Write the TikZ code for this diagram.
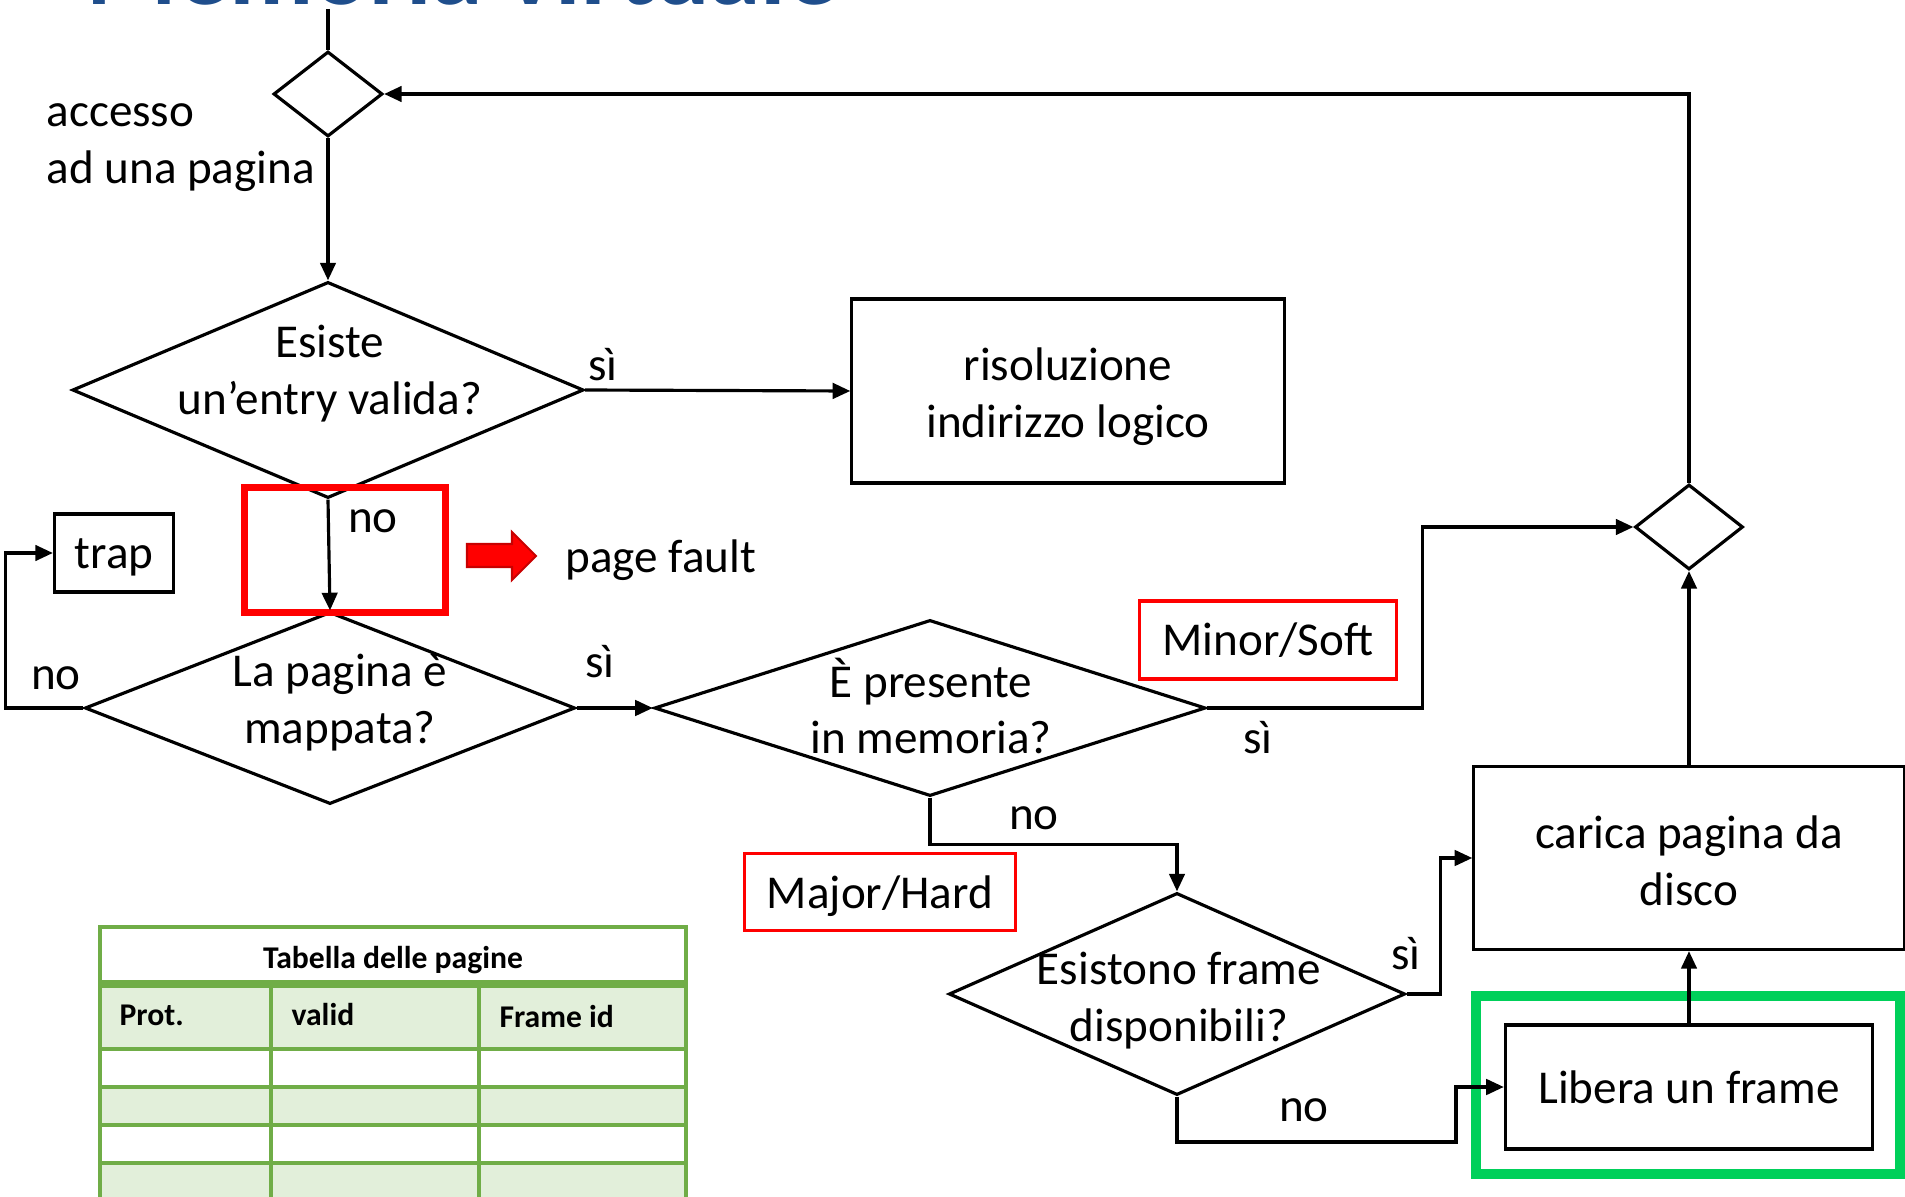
\documentclass[tikz,border=0pt]{standalone}
\usepackage{fontspec}
\setmainfont{Carlito}
\usetikzlibrary{shapes.geometric,arrows.meta}

\definecolor{tabgreen}{RGB}{112,173,71}
\definecolor{tabfill}{RGB}{226,239,218}
\definecolor{hilite}{RGB}{0,208,90}
\definecolor{titleblue}{RGB}{31,78,140}
\definecolor{darkred}{RGB}{200,0,0}

\begin{document}
\begin{tikzpicture}[x=0.01cm,y=-0.01cm, font=\fontsize{13.4}{16.2}\selectfont, line width=0.9pt,
    >={Triangle[length=5pt,width=4.4pt]},
    dia/.style={draw,diamond,inner sep=0pt},
    box/.style={draw,rectangle,inner sep=0pt,align=center},
    tag/.style={draw=red,rectangle,inner sep=0pt},
    txt/.style={inner sep=0pt,align=center},
    tabtxt/.style={inner sep=0pt,font=\fontsize{9}{11}\selectfont\bfseries}]
      \useasboundingbox (0,0) rectangle (1905,1197);

      \node[anchor=base west, inner sep=0pt, text=titleblue, font=\fontsize{29.5}{35}\selectfont\bfseries] (title) at (85,5) {Memoria virtuale};

      % flow chart
      \coordinate (top) at (328,9);
      \node[dia, minimum width=1.09cm, minimum height=0.85cm] (d0) at (328,94) {};
      \node[txt, align=left, anchor=west] (acc) at (45,148) {accesso\\ad una pagina};

      \node[dia, minimum width=5.11cm, minimum height=2.16cm] (d1) at (328,390) {};
      \node[txt] (d1t) at (330,374) {Esiste\\un’entry valida?};
      \node[box, minimum width=4.32cm, minimum height=1.84cm] (b1) at (1068,391) {};
      \node[txt] (b1t) at (1068,397) {risoluzione\\indirizzo logico};

      \node[dia, minimum width=4.90cm, minimum height=1.92cm] (d2) at (330,708) {};
      \node[txt] (d2t) at (340,703) {La pagina è\\mappata?};
      \node[box, minimum width=1.19cm, minimum height=0.78cm] (trap) at (114,553) {};
      \node[txt] (trapt) at (114,557) {trap};

      \node[draw=red, line width=2pt, inner sep=0pt, minimum width=2.01cm, minimum height=1.24cm] (pf) at (345,550) {};
      \filldraw[fill=red, draw=darkred, line width=0.6pt]
        (467,544) -- (512,544) -- (512,532) -- (536,556) -- (512,580) -- (512,567) -- (467,567) -- cycle;
      \node[txt, anchor=west] (pft) at (564,560) {page fault};

      \node[dia, minimum width=5.51cm, minimum height=1.76cm] (d3) at (930,708) {};
      \node[txt] (d3t) at (931,706) {È presente\\in memoria?};
      \node[tag, minimum width=2.57cm, minimum height=0.78cm] (minor) at (1268,640) {Minor/Soft};
      \node[dia, minimum width=1.08cm, minimum height=0.85cm] (dj) at (1689,527) {};

      \node[tag, minimum width=2.71cm, minimum height=0.77cm] (major) at (880,892) {};
      \node[txt] (majort) at (880,896) {Major/Hard};
      \node[dia, minimum width=4.56cm, minimum height=2.02cm] (d4) at (1177,994) {};
      \node[txt] (d4t) at (1179,1001) {Esistono frame\\disponibili?};

      \node[box, minimum width=4.30cm, minimum height=1.83cm] (b2) at (1689,858) {};
      \node[txt] (b2t) at (1689,861) {carica pagina da\\disco};
      \node[box, minimum width=3.67cm, minimum height=1.24cm] (b3) at (1689,1087) {Libera un frame};
      \node[draw=hilite, line width=2.8pt, inner sep=0pt, minimum width=4.24cm, minimum height=1.78cm] (hl) at (1688,1085) {};
      \coordinate (nb) at (1456,1142);

      \node[txt] (si1) at (603,365) {sì};
      \node[txt] (no1) at (373,521) {no};
      \node[txt] (no2) at (56,678) {no};
      \node[txt] (si2) at (600,662) {sì};
      \node[txt] (si3) at (1258,738) {sì};
      \node[txt] (no3) at (1034,818) {no};
      \node[txt] (si4) at (1406,954) {sì};
      \node[txt] (no4) at (1304,1110) {no};

      \draw (top) -- (d0.north);
      \draw[->] (d0.south) -- (d1.north);
      \draw[->] (d1.east) -- (b1.west);
      \draw[->] (d1.south) -- (d2.north);
      \draw[->] (d2.west) -- ++(-78,0) |- (trap.west);
      \draw[->] (d2.east) -- (d3.west);
      \draw[->] (d3.east) -- ++(215,0) |- (dj.west);
      \draw[->] (dj.north) |- (d0.east);
      \draw[->] (d3.south) -- ++(0,47) -| (d4.north);
      \draw[->] (d4.east) -- ++(34,0) |- (b2.west);
      \draw[->] (b2.north) -- (dj.south);
      \draw[->] (d4.south) |- (nb) |- (b3.west);
      \draw[->] (b3.north) -- (b2.south);

      % page table
      \foreach \y in {984,1087,1163} \fill[tabfill] (100,\y) rectangle (686,\y+38);
      \fill[tabfill] (100,984) rectangle (686,1049);
      \foreach \y in {1049,1087,1125,1163} \draw[tabgreen,line width=0.9pt] (100,\y) -- (686,\y);
      \foreach \x in {271,479} \draw[tabgreen,line width=0.9pt] (\x,984) -- (\x,1205);
      \draw[tabgreen,line width=0.9pt] (100,1205) -- (100,927) -- (686,927) -- (686,1205);
      \draw[tabgreen,line width=2pt] (100,984) -- (686,984);

      \node[tabtxt] (tabt) at (393,960) {Tabella delle pagine};
      \node[tabtxt, anchor=west] (hprot) at (118,1015) {Prot.};
      \node[tabtxt, anchor=west] (hvalid) at (290,1015) {valid};
      \node[tabtxt, anchor=west] (hframe) at (498,1017) {Frame id};
\end{tikzpicture}
\end{document}
